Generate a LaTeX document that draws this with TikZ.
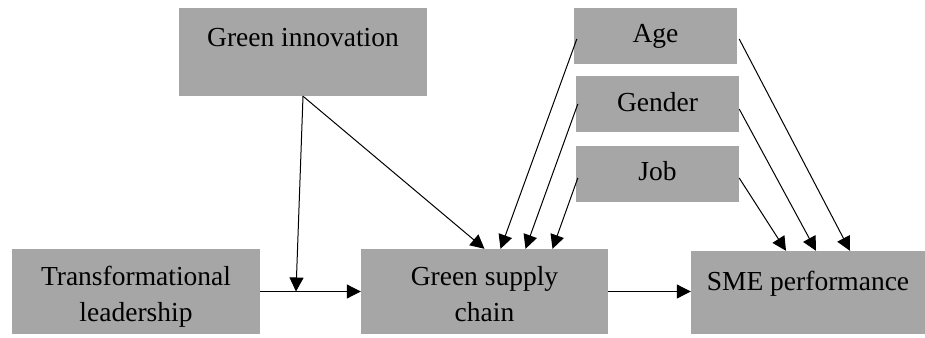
\documentclass[tikz,border=0pt]{standalone}
\usepackage{fontspec}
\setmainfont{Liberation Serif}
\newfontfamily\tnr{Liberation Serif}
\usetikzlibrary{arrows.meta}
\begin{document}
\begin{tikzpicture}[x=1pt,y=-1pt,
  box/.style={draw=none,fill=boxgray,inner sep=0pt,anchor=center},
  lbl/.style={inner sep=0pt,anchor=base,font=\tnr\fontsize{27.5}{33}\selectfont},
  conn/.style={line width=1pt,-{Triangle[length=14pt,width=14pt]}}]
\definecolor{boxgray}{HTML}{A6A6A6}
\useasboundingbox (0,0) rectangle (925,337);
\fill[white] (0,0) rectangle (925,337);
% boxes
\node[box,minimum width=248,minimum height=88] (gi) at (303,52) {};
\node[box,minimum width=163,minimum height=56] (age) at (655.5,36) {};
\node[box,minimum width=163,minimum height=56] (gender) at (657.5,104) {};
\node[box,minimum width=163,minimum height=56] (job) at (657.5,174) {};
\node[box,minimum width=248,minimum height=85] (tl) at (136,291.5) {};
\node[box,minimum width=247,minimum height=85] (gsc) at (484.5,291.5) {};
\node[box,minimum width=234,minimum height=83] (sme) at (808,292.5) {};
% labels
\node[lbl] (git) at (303,47) {Green innovation};
\node[lbl] (aget) at (655.5,43) {Age};
\node[lbl] (gendert) at (657.5,111) {Gender};
\node[lbl] (jobt) at (657.5,180) {Job};
\node[lbl] (tlt1) at (136,285) {Transformational};
\node[lbl] (tlt2) at (136,321) {leadership};
\node[lbl] (gsct1) at (484.5,285) {Green supply};
\node[lbl] (gsct2) at (484.5,321) {chain};
\node[lbl] (smet) at (808,290) {SME performance};
% connectors
\coordinate (m) at (296,291.5);
\draw[line width=1pt] (tl.east) -- (m);
\draw[conn] (m) -- (gsc.west);
\draw[conn] (gi.south) -- (m);
\draw[conn] (gi.south) -- (gsc.north);
\draw[conn] ([xshift=3pt,yshift=-3pt]age.west) -- ([xshift=16pt]gsc.north);
\draw[conn] ([xshift=2pt]gender.west) -- ([xshift=41pt]gsc.north);
\draw[conn] ([xshift=2pt,yshift=-4pt]job.west) -- ([xshift=68pt]gsc.north);
\draw[conn] ([xshift=2pt,yshift=-3pt]age.east) -- ([xshift=42pt]sme.north);
\draw[conn] ([xshift=0pt,yshift=-5pt]gender.east) -- ([xshift=8pt]sme.north);
\draw[conn] ([xshift=0pt,yshift=-4pt]job.east) -- ([xshift=-22pt]sme.north);
\draw[conn] (gsc.east) -- (gsc.east -| sme.west);
\end{tikzpicture}
\end{document}
